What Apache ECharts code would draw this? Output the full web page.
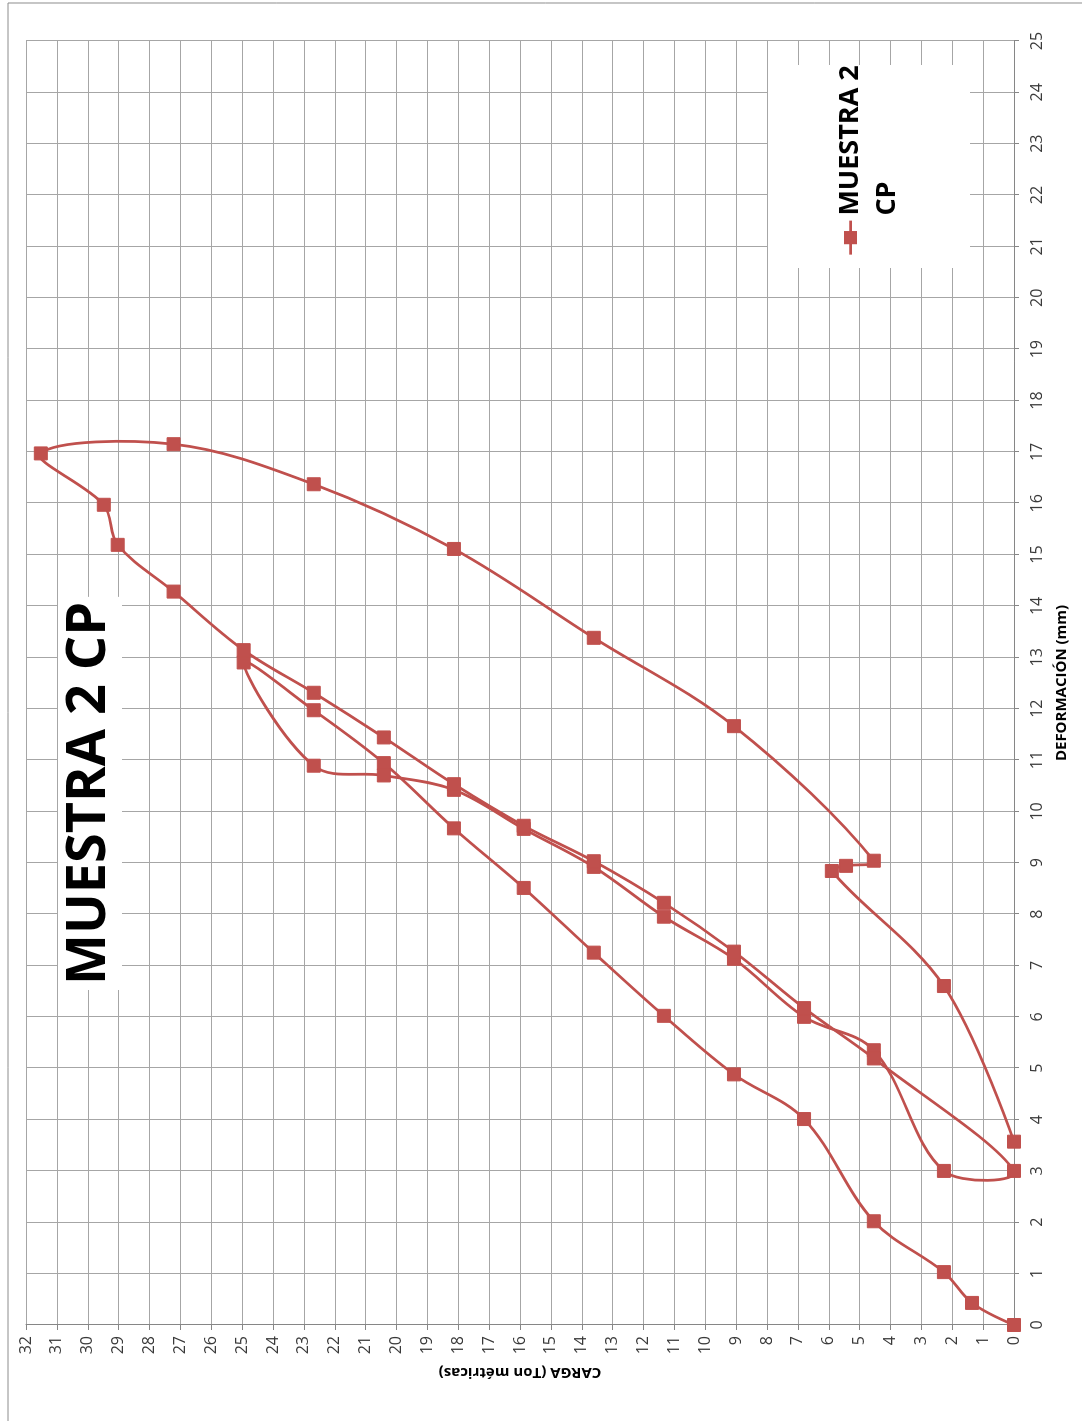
<!DOCTYPE html>
<html>
<head>
<meta charset="utf-8">
<title>MUESTRA 2 CP</title>
<script src="https://cdn.jsdelivr.net/npm/echarts@6/dist/echarts.min.js"></script>
<style>
  html, body { margin: 0; padding: 0; background: #fff; overflow: hidden; }
  body { width: 1082px; height: 1421px; position: relative; }
  /* The chart is laid out landscape and turned a quarter turn counter-clockwise onto the portrait page */
  #chart {
    position: absolute; left: 0; top: 0;
    width: 1421px; height: 1082px;
    transform-origin: 0 0;
    transform: translate(0, 1421px) rotate(-90deg);
  }
</style>
</head>
<body>
<div id="chart"></div>
<script>
// Load test readings, in test order: first loading, unloading, reloading to failure, final unloading
const deformacion = [
  0, 0.43, 1.03, 2.02, 4.01, 4.88, 6.02, 7.25, 8.51, 9.67, 10.94, 11.97, 12.90,
  10.89, 10.70, 10.42, 9.66, 8.92, 7.95, 7.13, 6.00, 5.35, 3.00, 3.00,
  5.19, 6.17, 7.27, 8.22, 9.03, 9.72, 10.53, 11.44, 12.31, 13.14, 14.28, 15.19, 15.97, 16.97,
  17.15, 16.37, 15.11, 13.38, 11.66, 9.04, 8.94, 8.84, 6.60, 3.57
];
const carga = [
  0, 1.36, 2.27, 4.54, 6.80, 9.07, 11.34, 13.61, 15.88, 18.14, 20.41, 22.68, 24.95,
  22.68, 20.41, 18.14, 15.88, 13.61, 11.34, 9.07, 6.80, 4.54, 2.27, 0,
  4.54, 6.80, 9.07, 11.34, 13.61, 15.88, 18.14, 20.41, 22.68, 24.95, 27.22, 29.03, 29.48, 31.52,
  27.22, 22.68, 18.14, 13.61, 9.07, 4.54, 5.44, 5.90, 2.27, 0
];

const serieNombre = 'MUESTRA 2 CP';
const tituloTexto = 'MUESTRA 2 CP';
const ejeX = { nombre: 'DEFORMACIÓN (mm)', min: 0, max: 25, paso: 1 };
const ejeY = { nombre: 'CARGA (Ton métricas)', min: 0, max: 32, paso: 1 };

const rojo = '#C0504D';
const gris = '#a6a6a6';
const fuente = 'Open Sans';
const grosorLinea = 2.75;
const suavizado = 0.35;

const puntos = deformacion.map((d, i) => [d, carga[i]]);

// Smoothed curve through the readings: each data item draws the cubic segment that ends at it.
// Control points follow the neighbouring readings (Catmull-Rom style, weighted by segment length),
// without clamping, so the curve may swing past a reading as a spreadsheet smooth line does.
function tramoSuave(params, api) {
  const i = params.dataIndex;
  if (i === 0) return null;
  const p = puntos.map(q => api.coord(q));
  const n = p.length;
  const salida = (k) => {           // control point leaving point k
    if (k === 0 || k === n - 1) return p[k];
    const a = p[k - 1], b = p[k], c = p[k + 1];
    const d0 = Math.hypot(b[0] - a[0], b[1] - a[1]);
    const d1 = Math.hypot(c[0] - b[0], c[1] - b[1]);
    const r = d0 + d1 === 0 ? 0.5 : d1 / (d0 + d1);
    return [b[0] + (c[0] - a[0]) * suavizado * r, b[1] + (c[1] - a[1]) * suavizado * r];
  };
  const entrada = (k) => {          // control point arriving at point k
    if (k === 0 || k === n - 1) return p[k];
    const a = p[k - 1], b = p[k], c = p[k + 1];
    const d0 = Math.hypot(b[0] - a[0], b[1] - a[1]);
    const d1 = Math.hypot(c[0] - b[0], c[1] - b[1]);
    const r = d0 + d1 === 0 ? 0.5 : d0 / (d0 + d1);
    return [b[0] - (c[0] - a[0]) * suavizado * r, b[1] - (c[1] - a[1]) * suavizado * r];
  };
  const c1 = salida(i - 1), c2 = entrada(i);
  return {
    type: 'bezierCurve',
    shape: {
      x1: p[i - 1][0], y1: p[i - 1][1],
      cpx1: c1[0], cpy1: c1[1],
      cpx2: c2[0], cpy2: c2[1],
      x2: p[i][0], y2: p[i][1]
    },
    style: { stroke: rojo, lineWidth: grosorLinea, fill: null, lineCap: 'round' }
  };
}

const chart = echarts.init(document.getElementById('chart'), null, { renderer: 'canvas' });

chart.setOption({
  animation: false,
  backgroundColor: '#fff',
  title: {
    text: tituloTexto,
    left: 431,
    top: 58,
    padding: [4, 5, 4, 5],
    backgroundColor: '#fff',
    textStyle: { fontFamily: fuente, fontSize: 54, fontWeight: 'bold', color: '#000', lineHeight: 56 }
  },
  legend: {
    data: [serieNombre],
    left: 1165,
    top: 795,
    padding: 0,
    itemWidth: 34,
    itemHeight: 14,
    lineStyle: { color: rojo, width: grosorLinea, opacity: 1 },
    // leading empty line keeps the first text line level with the legend mark
    formatter: () => '\nMUESTRA 2\nCP',
    textStyle: {
      fontFamily: fuente, fontSize: 27, fontWeight: 'bold', color: '#000',
      lineHeight: 37
    }
  },
  grid: { left: 96, right: 41, top: 26, bottom: 68, containLabel: false, outerBoundsMode: 'none' },
  xAxis: {
    type: 'value',
    min: ejeX.min, max: ejeX.max, interval: ejeX.paso,
    name: ejeX.nombre,
    nameLocation: 'middle',
    nameGap: 40,
    nameTextStyle: { fontFamily: fuente, fontSize: 15, fontWeight: 'bold', color: '#000' },
    axisLine: { show: true, onZero: false, lineStyle: { color: '#868686', width: 1 } },
    axisTick: { show: true, inside: false, length: 5, lineStyle: { color: '#868686' } },
    axisLabel: { fontFamily: fuente, fontSize: 16, color: '#3a3a3a', margin: 15 },
    splitLine: { show: true, lineStyle: { color: gris, width: 1 } }
  },
  yAxis: {
    type: 'value',
    min: ejeY.min, max: ejeY.max, interval: ejeY.paso,
    name: ejeY.nombre,
    nameLocation: 'middle',
    nameRotate: 90,
    nameGap: 40,
    nameTextStyle: { fontFamily: fuente, fontSize: 15, fontWeight: 'bold', color: '#000' },
    axisLine: { show: true, onZero: false, lineStyle: { color: '#868686', width: 1 } },
    axisTick: { show: true, inside: false, length: 5, lineStyle: { color: '#868686' } },
    axisLabel: { fontFamily: fuente, fontSize: 16, color: '#3a3a3a', margin: 11 },
    splitLine: { show: true, lineStyle: { color: gris, width: 1 } }
  },
  graphic: [
    {
      // white panel behind the legend
      type: 'rect', z: 1, silent: true,
      shape: { x: 1153, y: 768, width: 203, height: 202 },
      style: { fill: '#fff' }
    },
    {
      // chart frame
      type: 'rect', z: 10, silent: true,
      shape: { x: -10, y: 8, width: 1428, height: 1100 },
      style: { fill: 'none', stroke: '#8c8c8c', lineWidth: 1 }
    }
  ],
  series: [
    {
      // smoothed connecting curve
      name: 'curva',
      type: 'custom',
      coordinateSystem: 'cartesian2d',
      data: puntos,
      encode: { x: 0, y: 1 },
      renderItem: tramoSuave,
      silent: true,
      z: 2
    },
    {
      // square markers at each reading
      name: serieNombre,
      type: 'line',
      data: puntos,
      symbol: 'rect',
      symbolSize: 13,
      showAllSymbol: true,
      lineStyle: { color: rojo, width: 0, opacity: 0 },
      itemStyle: { color: rojo, borderColor: rojo, borderWidth: 1 },
      emphasis: { disabled: true },
      silent: true,
      z: 3
    }
  ]
});
</script>
</body>
</html>
